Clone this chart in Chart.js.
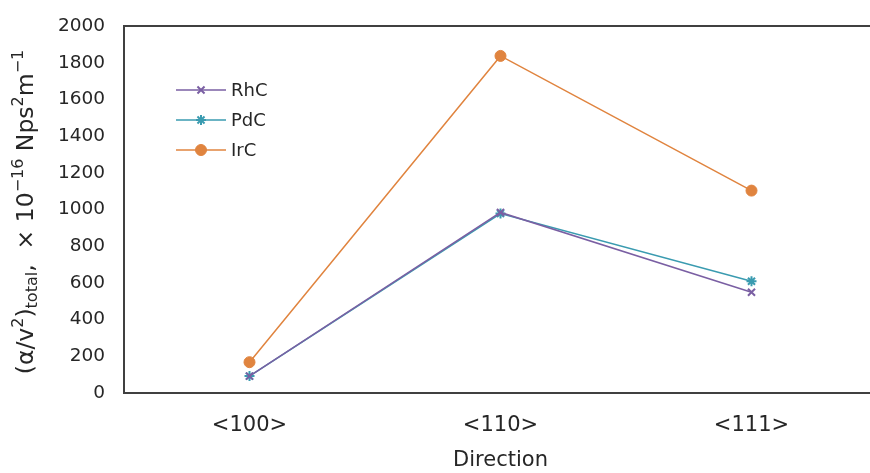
<!DOCTYPE html>
<html>
<head>
<meta charset="utf-8">
<script src="https://cdn.jsdelivr.net/npm/chart.js@4"></script>
<style>
  html, body { margin: 0; padding: 0; background: #fff; overflow: hidden; }
  #wrap { width: 884px; height: 473px; }
</style>
</head>
<body>
<div id="wrap"><canvas id="chart" width="884" height="473"></canvas></div>
<script>
const directions = ['<100>', '<110>', '<111>'];
const rhcValues = [92, 984, 549];
const pdcValues = [92, 978, 609];
const ircValues = [168, 1837, 1103];
const yTicks = [0, 200, 400, 600, 800, 1000, 1200, 1400, 1600, 1800, 2000];

const FONT = '"DejaVu Sans", Verdana, sans-serif';
const TEXT = '#262626';

// legend drawn inside the plot, top-left
const legendPlugin = {
    id: 'innerLegend',
    afterDatasetsDraw(chart) {
        const ctx = chart.ctx;
        chart.data.datasets.forEach((ds, i) => {
            const y = 90 + i * 30;
            ctx.save();
            ctx.strokeStyle = ds.borderColor;
            ctx.lineWidth = 1.5;
            ctx.beginPath();
            ctx.moveTo(176, y);
            ctx.lineTo(226, y);
            ctx.stroke();
            ctx.fillStyle = ds.pointBackgroundColor;
            ctx.strokeStyle = ds.pointBorderColor;
            ctx.lineWidth = ds.pointBorderWidth;
            Chart.helpers.drawPoint(ctx, {
                pointStyle: ds.pointStyle,
                radius: ds.pointRadius,
                borderWidth: ds.pointBorderWidth,
                rotation: 0
            }, 201, y);
            ctx.fillStyle = TEXT;
            ctx.font = '18px ' + FONT;
            ctx.textBaseline = 'middle';
            ctx.fillText(ds.label, 231, y + 1);
            ctx.restore();
        });
    }
};

// top frame line and rotated y title with sub/superscripts
const framePlugin = {
    id: 'frame',
    afterDraw(chart) {
        const ctx = chart.ctx;
        const area = chart.chartArea;
        ctx.save();
        ctx.strokeStyle = '#404040';
        ctx.lineWidth = 2;
        ctx.beginPath();
        ctx.moveTo(area.left - 1, area.top);
        ctx.lineTo(chart.width, area.top);
        ctx.stroke();

        const parts = [
            ['(α/v', 0, 23.5],
            ['2', -8, 16],
            [')', 0, 23.5],
            ['total', 6, 16],
            [',  × 10', 0, 23.5],
            ['−16', -8, 16],
            [' Nps', 0, 23.5],
            ['2', -8, 16],
            ['m', 0, 23.5],
            ['−1', -8, 16]
        ];
        let total = 0;
        parts.forEach(p => {
            ctx.font = p[2] + 'px ' + FONT;
            total += ctx.measureText(p[0]).width;
        });
        ctx.translate(27, 212);
        ctx.rotate(-Math.PI / 2);
        ctx.fillStyle = TEXT;
        ctx.textBaseline = 'middle';
        let x = -total / 2;
        parts.forEach(p => {
            ctx.font = p[2] + 'px ' + FONT;
            ctx.fillText(p[0], x, p[1]);
            x += ctx.measureText(p[0]).width;
        });
        ctx.restore();
    }
};

const chart = new Chart(document.getElementById('chart'), {
    type: 'line',
    data: {
        labels: directions,
        datasets: [
            {
                label: 'RhC',
                data: rhcValues,
                borderColor: '#7a5fa3',
                pointBorderColor: '#7a5fa3',
                pointBackgroundColor: '#7a5fa3',
                pointStyle: 'crossRot',
                pointRadius: 5,
                pointBorderWidth: 2,
                borderWidth: 1.5
            },
            {
                label: 'PdC',
                data: pdcValues,
                borderColor: '#3a9bb0',
                pointBorderColor: '#3a9bb0',
                pointBackgroundColor: '#3a9bb0',
                pointStyle: 'star',
                pointRadius: 5,
                pointBorderWidth: 2,
                borderWidth: 1.5
            },
            {
                label: 'IrC',
                data: ircValues,
                borderColor: '#e0843f',
                pointBorderColor: '#e0843f',
                pointBackgroundColor: '#e0843f',
                pointStyle: 'circle',
                pointRadius: 5.5,
                pointBorderWidth: 1,
                borderWidth: 1.5
            }
        ]
    },
    options: {
        responsive: false,
        animation: false,
        devicePixelRatio: 1,
        layout: { padding: { top: 26, right: 4, left: 0, bottom: 0 } },
        plugins: {
            legend: { display: false },
            tooltip: { enabled: false }
        },
        elements: { line: { tension: 0 } },
        scales: {
            x: {
                offset: true,
                grid: { display: false },
                border: { display: true, color: '#404040', width: 2 },
                ticks: { color: TEXT, font: { family: FONT, size: 21 }, padding: 12 },
                title: {
                    display: true,
                    text: 'Direction',
                    color: TEXT,
                    font: { family: FONT, size: 21 },
                    padding: { top: 0, bottom: 0 }
                },
                afterFit(scale) { scale.height = 80; }
            },
            y: {
                min: 0,
                max: 2000,
                grid: { display: false },
                border: { display: true, color: '#404040', width: 2 },
                afterBuildTicks(scale) { scale.ticks = yTicks.map(v => ({ value: v })); },
                ticks: {
                    color: TEXT,
                    font: { family: FONT, size: 18.5 },
                    padding: 11,
                    callback: v => String(v)
                },
                afterFit(scale) { scale.width = 124; }
            }
        }
    },
    plugins: [legendPlugin, framePlugin]
});
</script>
</body>
</html>
